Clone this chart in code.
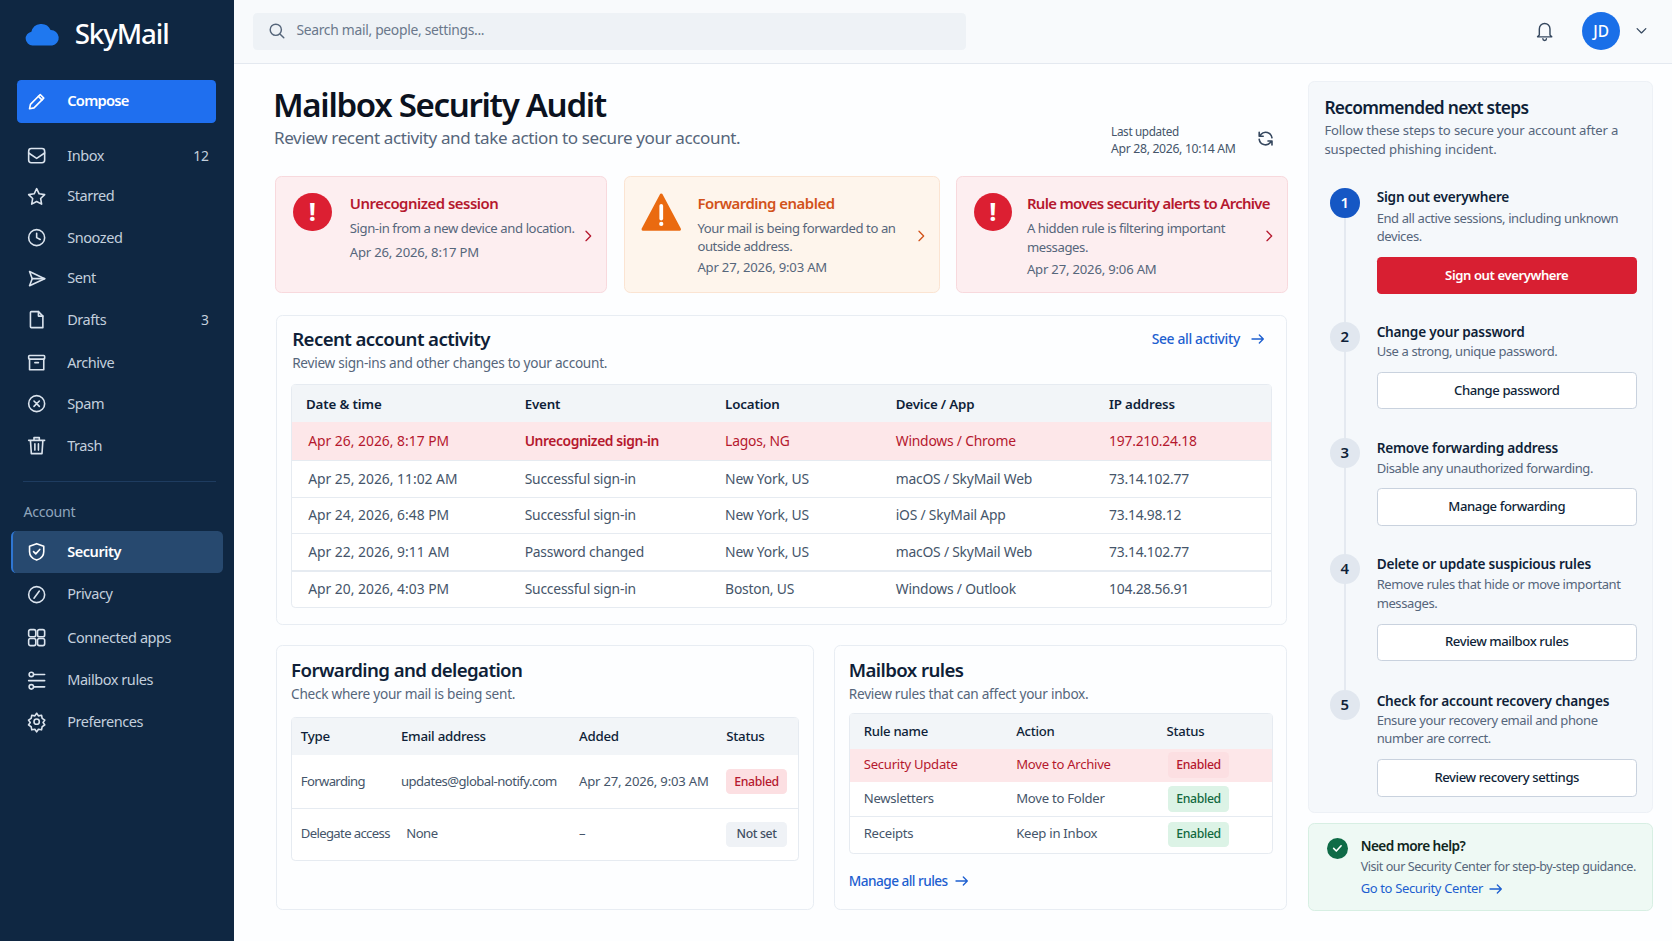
<!DOCTYPE html>
<html lang="en">
<head>
<meta charset="utf-8">
<title>SkyMail - Mailbox Security Audit</title>
<script src="https://cdn.jsdelivr.net/npm/chart.js@4"></script>
<style>
  html, body { margin: 0; padding: 0; background: #fdfeff; overflow: hidden; }
  #app { position: relative; width: 1568px; height: 882px; zoom: 1.06633; font-family: "Noto Sans", sans-serif; overflow: hidden; }
  .t { position: absolute; white-space: nowrap; transform: translateY(-50%); line-height: 1.2; }
  .c { transform: translate(-50%, -50%); }
  .b { position: absolute; box-sizing: border-box; }
  svg { position: absolute; overflow: visible; fill: none; stroke-linecap: round; stroke-linejoin: round; }
</style>
</head>
<body>
<div id="app"></div>
<script>
// The reference is a dashboard without any chart: Chart.js is loaded but has no marks to draw.
const navMain = ["Inbox", "Starred", "Snoozed", "Sent", "Drafts", "Archive", "Spam", "Trash"];
const navCounts = ["12", "", "", "", "3", "", "", ""];
const navAccount = ["Security", "Privacy", "Connected apps", "Mailbox rules", "Preferences"];

const alertTitles = ["Unrecognized session", "Forwarding enabled", "Rule moves security alerts to Archive"];
const alertLines = [
  ["Sign-in from a new device and location."],
  ["Your mail is being forwarded to an", "outside address."],
  ["A hidden rule is filtering important", "messages."],
];
const alertDates = ["Apr 26, 2026, 8:17 PM", "Apr 27, 2026, 9:03 AM", "Apr 27, 2026, 9:06 AM"];

const activityHead = ["Date & time", "Event", "Location", "Device / App", "IP address"];
const activityRows = [
  ["Apr 26, 2026, 8:17 PM", "Unrecognized sign-in", "Lagos, NG", "Windows / Chrome", "197.210.24.18"],
  ["Apr 25, 2026, 11:02 AM", "Successful sign-in", "New York, US", "macOS / SkyMail Web", "73.14.102.77"],
  ["Apr 24, 2026, 6:48 PM", "Successful sign-in", "New York, US", "iOS / SkyMail App", "73.14.98.12"],
  ["Apr 22, 2026, 9:11 AM", "Password changed", "New York, US", "macOS / SkyMail Web", "73.14.102.77"],
  ["Apr 20, 2026, 4:03 PM", "Successful sign-in", "Boston, US", "Windows / Outlook", "104.28.56.91"],
];

const forwardHead = ["Type", "Email address", "Added", "Status"];
const forwardRows = [
  ["Forwarding", "updates@global-notify.com", "Apr 27, 2026, 9:03 AM", "Enabled"],
  ["Delegate access", "None", "–", "Not set"],
];

const rulesHead = ["Rule name", "Action", "Status"];
const rulesRows = [
  ["Security Update", "Move to Archive", "Enabled"],
  ["Newsletters", "Move to Folder", "Enabled"],
  ["Receipts", "Keep in Inbox", "Enabled"],
];

const stepTitles = ["Sign out everywhere", "Change your password", "Remove forwarding address", "Delete or update suspicious rules", "Check for account recovery changes"];
const stepLines = [
  ["End all active sessions, including unknown", "devices."],
  ["Use a strong, unique password."],
  ["Disable any unauthorized forwarding."],
  ["Remove rules that hide or move important", "messages."],
  ["Ensure your recovery email and phone", "number are correct."],
];
const stepButtons = ["Sign out everywhere", "Change password", "Manage forwarding", "Review mailbox rules", "Review recovery settings"];

const app = document.getElementById("app");
const RED = "#b5182e", INK = "#0f1f38", GREY = "#56667b", BODY = "#45556a", BLUE = "#1d5fd0";

// ls = letter spacing in em, the reference face runs narrower than Noto Sans
function text(x, y, str, size, color, weight = 400, ls = 0, extra = "") {
  const d = document.createElement("div");
  d.className = "t";
  d.style.cssText = `left:${x}px;top:${y}px;font-size:${size}px;color:${color};font-weight:${weight};letter-spacing:${ls}em;${extra}`;
  d.textContent = str;
  app.appendChild(d);
  return d;
}
function center(x, y, str, size, color, weight = 400, ls = 0) {
  text(x, y, str, size, color, weight, ls).classList.add("c");
}
function box(x1, y1, x2, y2, bg, border, radius = 0, extra = "") {
  const d = document.createElement("div");
  d.className = "b";
  d.style.cssText = `left:${x1}px;top:${y1}px;width:${x2 - x1}px;height:${y2 - y1}px;background:${bg};` +
    (border ? `border:1px solid ${border};` : "") + `border-radius:${radius}px;${extra}`;
  app.appendChild(d);
}
// icon drawn in a 24 box centred on (cx, cy)
function icon(cx, cy, size, color, body, sw = 1.8) {
  app.insertAdjacentHTML("beforeend",
    `<svg style="left:${cx - size / 2}px;top:${cy - size / 2}px" width="${size}" height="${size}" viewBox="0 0 24 24" stroke="${color}" stroke-width="${sw}">${body}</svg>`);
}

const ICONS = {
  Search: '<circle cx="11" cy="11" r="7"/><path d="M16.5 16.5L21 21"/>',
  Compose: '<path d="M4 20l1-5L16 4l4 4L9 19z"/><path d="M14 6l4 4"/>',
  Inbox: '<rect x="3" y="4" width="18" height="16" rx="3"/><path d="M3 9l9 6 9-6"/>',
  Starred: '<path d="M12 3l2.8 5.8 6.2.9-4.500 4.400 1.100 6.300L12 17.400 6.400 20.400l1.100-6.300L3 9.700l6.200-.9z"/>',
  Snoozed: '<circle cx="12" cy="12" r="9"/><path d="M12 7v5l4 2"/>',
  Sent: '<path d="M4 4l17 8-17 8 3-8z"/><path d="M7 12h14"/>',
  Drafts: '<path d="M6 3h8l5 5v13H6a1 1 0 0 1-1-1V4a1 1 0 0 1 1-1z"/><path d="M14 3v5h5"/>',
  Archive: '<rect x="3" y="4" width="18" height="4" rx="1"/><path d="M4 8v12h16V8"/><path d="M10 12h4"/>',
  Spam: '<circle cx="12" cy="12" r="9"/><path d="M9 9l6 6M15 9l-6 6"/>',
  Trash: '<path d="M3 6h18M9 6V3h6v3M5 6l1 15h12l1-15M10 10v7M14 10v7"/>',
  Security: '<path d="M12 3l8 3v6c0 5-3.500 8-8 9.500C7.500 20 4 17 4 12V6z"/><path d="M8.500 12l2.500 2.500 4.500-5"/>',
  Privacy: '<circle cx="12" cy="12" r="9"/><path d="M9 16l6-8"/>',
  "Connected apps": '<rect x="3" y="3" width="8" height="8" rx="2"/><rect x="13" y="3" width="8" height="8" rx="2"/><rect x="3" y="13" width="8" height="8" rx="2"/><rect x="13" y="13" width="8" height="8" rx="2"/>',
  "Mailbox rules": '<circle cx="6" cy="5" r="2.500"/><path d="M9 5h12M3 12h18"/><circle cx="6" cy="19" r="2.500"/><path d="M9 19h12"/>',
  Preferences: '<circle cx="12" cy="12" r="3"/><path d="M12 2.500l2 3 3.500-.7.700 3.500 3 2-2 2.700 2 2.700-3 2-.7 3.500-3.500-.7-2 3-2-3-3.500.7-.7-3.500-3-2 2-2.700-2-2.700 3-2 .7-3.500 3.500.7z"/>',
  Arrow: '<path d="M3 12h17M14 6l6 6-6 6"/>',
  Chevron: '<path d="M9 5l7 7-7 7"/>',
  Bell: '<path d="M6 17V10a6 6 0 0 1 12 0v7l2 2H4z"/><path d="M10 21a2 2 0 0 0 4 0"/>',
  Down: '<path d="M5 9l7 7 7-7"/>',
  Refresh: '<path d="M20 11a8 8 0 0 0-14-4L4 9M4 4v5h5M4 13a8 8 0 0 0 14 4l2-2M20 20v-5h-5"/>',
};

/* ---- sidebar ---- */
box(0, 0, 219, 882, "#0f2742");
app.insertAdjacentHTML("beforeend",
  '<svg style="left:23px;top:20px" width="32" height="24" viewBox="0 0 32 24"><path fill="#1f78ef" d="M7 23a6.500 6.500 0 0 1-1-12.900A9.500 9.500 0 0 1 24 8.500 7.300 7.300 0 0 1 25.500 23z"/></svg>');
text(70, 32, "SkyMail", 26, "#ffffff", 500, -0.04);
box(16, 75, 203, 115, "#1f6fef", null, 4);
icon(34, 95, 20, "#ffffff", ICONS.Compose);
text(63, 95, "Compose", 13.8, "#ffffff", 600, -0.05);

const navMainY = [146, 184, 223, 261, 300, 340, 379, 418];
navMain.forEach((name, i) => {
  icon(34, navMainY[i], 20, "#dbe4ee", ICONS[name]);
  text(63, navMainY[i], name, 13.6, "#c3cfdd", 400, -0.03);
  if (navCounts[i]) text(196, navMainY[i], navCounts[i], 13, "#c3cfdd", 400, 0, "transform:translate(-100%,-50%);");
});
box(22, 451, 203, 452, "#1e3c60");
text(22, 480, "Account", 13.3, "#8fa5bc", 400, -0.02);
box(10, 498, 209, 537, "#27496f", null, 5, "border-left:2px solid #2f76d2;");
const navAccountY = [517.5, 557.5, 598, 638, 677];
navAccount.forEach((name, i) => {
  icon(34, navAccountY[i], 20, i ? "#dbe4ee" : "#ffffff", ICONS[name]);
  text(63, navAccountY[i], name, 13.6, i ? "#c3cfdd" : "#ffffff", i ? 400 : 600, -0.03);
});

/* ---- top bar ---- */
box(219, 0, 1568, 60, "#f8fafc", null, 0, "border-bottom:1px solid #e4e9f0;");
box(237, 12, 906, 47, "#eef2f6", null, 4);
icon(259, 29, 18, "#55657a", ICONS.Search);
text(278, 28, "Search mail, people, settings...", 13, "#6a788b", 400, -0.022);
icon(1449, 29, 20, "#35475e", ICONS.Bell, 1.6);
box(1484, 11, 1519, 47, "#1a6fe8", null, 18);
center(1501.5, 29.5, "JD", 14.5, "#ffffff", 500);
icon(1539, 29, 14, "#35475e", ICONS.Down, 2);

/* ---- heading ---- */
text(256, 98, "Mailbox Security Audit", 31, "#0b1220", 600, -0.04);
text(257, 129, "Review recent activity and take action to secure your account.", 16, GREY, 400, -0.023);
text(1042, 123, "Last updated", 11, BODY, 400, -0.03);
text(1042, 140, "Apr 28, 2026, 10:14 AM", 11.5, BODY, 400, -0.028);
icon(1187, 130, 18, "#35475e", ICONS.Refresh, 2);

/* ---- alert cards ---- */
const alertBox = [[258, 569], [585, 882], [897, 1208]];
const alertFill = ["#fdeef0", "#fef5ec", "#fdeef0"];
const alertEdge = ["#f8d9dd", "#fbe4d2", "#f8d9dd"];
const alertInk = [RED, "#d2521a", RED];
const alertTextX = [328, 654, 963];
const alertIconX = [293, 620, 931];
const alertChevX = [551, 864, 1190];
const alertLineY = [[214.5], [214.5, 231.5], [214.5, 232.5]];
const alertDateY = [237.5, 251.5, 253.5];
alertTitles.forEach((title, i) => {
  box(alertBox[i][0], 165, alertBox[i][1], 275, alertFill[i], alertEdge[i], 6);
  if (i === 1) {
    app.insertAdjacentHTML("beforeend",
      '<svg style="left:601px;top:181px" width="38" height="36" viewBox="0 0 38 36"><path fill="#ea6a10" stroke="#ea6a10" stroke-width="3" d="M19 2L36 34H2z"/><path stroke="#fff" stroke-width="3.500" d="M19 12v12"/><circle cx="19" cy="29" r="2" fill="#fff"/></svg>');
  } else {
    box(alertIconX[i] - 18, 181, alertIconX[i] + 18, 217, "#dc1f32", null, 18);
    center(alertIconX[i], 198, "!", 24, "#ffffff", 700);
  }
  text(alertTextX[i], 191, title, 14, alertInk[i], 600, i === 2 ? -0.045 : -0.032);
  alertLines[i].forEach((line, j) => text(alertTextX[i], alertLineY[i][j], line, 12.3, GREY, 400, -0.031));
  text(alertTextX[i], alertDateY[i], alertDates[i], 12.3, GREY, 400, -0.015);
  icon(alertChevX[i], 221, 15, alertInk[i], ICONS.Chevron, 2);
});

/* ---- recent activity ---- */
box(259, 295, 1207, 586, "#fdfeff", "#e8edf3", 6);
text(274, 318, "Recent account activity", 17.5, INK, 600, -0.032);
text(274, 340, "Review sign-ins and other changes to your account.", 12.8, GREY, 400, -0.02);
text(1080, 318, "See all activity", 13, BLUE, 500, -0.024);
icon(1180, 318, 15, BLUE, ICONS.Arrow, 2);
box(273, 360, 1193, 570, "#ffffff", "#e6ebf1", 4);
box(274, 361, 1192, 396, "#f2f5f8");
const activityX = [287, 492, 680, 840, 1040];
const activityRowTop = [396, 431, 466, 500, 535];
const activityRowY = [414, 449, 483, 517.5, 552];
activityHead.forEach((h, c) => text(activityX[c], 378.5, h, 12.5, INK, 600, -0.012));
activityRows.forEach((row, r) => {
  const top = activityRowTop[r];
  if (r === 0) box(274, top, 1192, top + 35, "#fde7e9");
  else box(274, top, 1192, top + 1, "#e6ebf1");
  row.forEach((cell, c) => {
    const bold = !r && c === 1;
    text(c ? activityX[c] : 289, activityRowY[r], cell, 13, r ? BODY : RED, bold ? 600 : 400, bold ? -0.03 : c ? -0.015 : 0);
  });
});

/* ---- status badge ---- */
const badgeFill = { red: "#fcdfe2", green: "#dcf3e6", grey: "#eff2f6" };
const badgeInk = { red: RED, green: "#12693f", grey: "#3f4f63" };
function badge(x1, x2, y, str, kind) {
  box(x1, y - 12, x2, y + 12, badgeFill[kind], null, 4);
  center((x1 + x2) / 2, y, str, 11.5, badgeInk[kind], 500, -0.03);
}

/* ---- forwarding ---- */
box(259, 605, 763, 853, "#fdfeff", "#e8edf3", 6);
text(273, 628, "Forwarding and delegation", 17.5, INK, 600, -0.032);
text(273, 651, "Check where your mail is being sent.", 12.8, GREY, 400, -0.02);
box(273, 672, 749, 807, "#ffffff", "#e6ebf1", 4);
box(274, 673, 748, 708, "#f2f5f8");
const forwardX = [282, 376, 543, 681];
const forwardRowY = [733, 782.5];
forwardHead.forEach((h, c) => text(forwardX[c], 690, h, 12.5, INK, 500, -0.02));
box(274, 758, 748, 759, "#e6ebf1");
forwardRows.forEach((row, r) => {
  text(forwardX[0], forwardRowY[r], row[0], 12.3, BODY, 400, -0.048);
  text(r ? 381 : forwardX[1], forwardRowY[r], row[1], 12.3, BODY, 400, -0.04);
  text(forwardX[2], forwardRowY[r], row[2], 12.3, BODY, 400, -0.015);
  badge(681, 738, forwardRowY[r], row[3], r ? "grey" : "red");
});

/* ---- mailbox rules ---- */
box(782, 605, 1207, 853, "#fdfeff", "#e8edf3", 6);
text(796, 628, "Mailbox rules", 17.5, INK, 600, -0.032);
text(796, 651, "Review rules that can affect your inbox.", 12.8, GREY, 400, -0.02);
box(796, 669, 1194, 801, "#ffffff", "#e6ebf1", 4);
box(797, 670, 1193, 702, "#f2f5f8");
box(797, 702, 1193, 733, "#fde7e9");
box(797, 765, 1193, 766, "#e6ebf1");
const rulesX = [810, 953, 1094];
const rulesRowY = [717.5, 749.5, 782.5];
rulesHead.forEach((h, c) => text(rulesX[c], 686, h, 12.3, INK, 500, -0.02));
rulesRows.forEach((row, r) => {
  text(rulesX[0], rulesRowY[r], row[0], 12.3, r ? BODY : RED, 400, -0.02);
  text(rulesX[1], rulesRowY[r], row[1], 12.3, r ? BODY : RED, 400, -0.02);
  badge(1095, 1153, rulesRowY[r], row[2], r ? "green" : "red");
});
text(796, 826, "Manage all rules", 12.8, BLUE, 500, -0.04);
icon(902, 826, 15, BLUE, ICONS.Arrow, 2);

/* ---- next steps ---- */
box(1227, 76, 1550, 762, "#f5f8fb", "#edf1f6", 6);
text(1242, 100, "Recommended next steps", 16.3, INK, 600, -0.04);
text(1242, 123, "Follow these steps to secure your account after a", 12.3, GREY, 400, -0.01);
text(1242, 141, "suspected phishing incident.", 12.3, GREY, 400, -0.01);
box(1260, 204, 1262, 647, "#e4e9f0");
const stepCircleY = [190, 316, 425, 534, 661];
const stepTitleY = [185, 311, 420, 529, 657];
const stepLineY = [[205.5, 222.5], [330.5], [439.5], [549, 566], [676.5, 693.5]];
const stepButtonY = [241, 349, 458, 585, 712];
stepTitles.forEach((title, i) => {
  box(1247, stepCircleY[i] - 14, 1275, stepCircleY[i] + 14, i ? "#e1e7ef" : "#1557c4", null, 14);
  center(1261, stepCircleY[i], String(i + 1), 14, i ? INK : "#ffffff", 600);
  text(1291, stepTitleY[i], title, 12.8, INK, 600, -0.015);
  stepLines[i].forEach((line, j) => text(1291, stepLineY[i][j], line, 12.2, GREY, 400, -0.03));
  const y = stepButtonY[i];
  if (i === 0) box(1291, y, 1535, y + 35, "#d81f32", null, 4);
  else box(1291, y, 1535, y + 35, "#ffffff", "#c9d2de", 4);
  center(1413, y + 17.5, stepButtons[i], 12.3, i ? INK : "#ffffff", i ? 500 : 600, -0.032);
});

/* ---- help ---- */
box(1227, 772, 1550, 854, "#eef9f4", "#d7efe3", 6);
box(1244, 786, 1264, 806, "#0f6b47", null, 10);
icon(1254, 796, 12, "#ffffff", '<path d="M5 12l5 5 9-10"/>', 3);
text(1276, 793, "Need more help?", 12.8, "#10261d", 600, -0.04);
text(1276, 813, "Visit our Security Center for step-by-step guidance.", 11.8, GREY, 400, -0.037);
text(1276, 834, "Go to Security Center", 12.2, BLUE, 400, -0.027);
icon(1403, 834, 15, BLUE, ICONS.Arrow, 2);
</script>
</body>
</html>
